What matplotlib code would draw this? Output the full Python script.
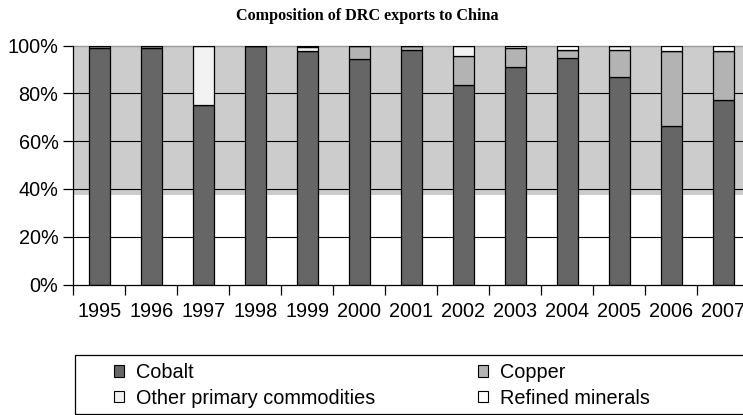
import matplotlib
matplotlib.use("Agg")
import matplotlib.pyplot as plt
from matplotlib.patches import Patch, Rectangle
import numpy as np

years = ["1995", "1996", "1997", "1998", "1999", "2000", "2001",
         "2002", "2003", "2004", "2005", "2006", "2007"]
cobalt = [99.0, 99.0, 75.3, 100.0, 97.9, 94.4, 98.3, 83.5, 91.1, 95.0, 86.9, 66.5, 77.4]
copper = [1.0, 1.0, 0.0, 0.0, 0.0, 5.6, 1.7, 12.3, 7.9, 3.3, 11.4, 31.4, 20.5]
other = [0.0, 0.0, 24.7, 0.0, 1.6, 0.0, 0.0, 4.2, 1.0, 0.0, 1.7, 0.0, 0.0]
refined = [0.0, 0.0, 0.0, 0.0, 0.5, 0.0, 0.0, 0.0, 0.0, 1.7, 0.0, 2.1, 2.1]
series_names = ["Cobalt", "Copper", "Other primary commodities", "Refined minerals"]
series_colors = ["#666666", "#b3b3b3", "#f2f2f2", "#ffffff"]
yticks = [0, 20, 40, 60, 80, 100]
ytick_labels = ["0%", "20%", "40%", "60%", "80%", "100%"]

plt.rcParams["font.family"] = ["Liberation Sans", "DejaVu Sans"]

W, H = 743, 415
fig = plt.figure(figsize=(W / 100, H / 100), dpi=100)
left, right = 73.3 / W, 749.3 / W
bottom, top = 1 - 284.5 / H, 1 - 45.7 / H
ax = fig.add_axes([left, bottom, right - left, top - bottom])

x = np.arange(len(years))
ax.axhspan(37.4, 100, color="#cccccc", zorder=0, lw=0)

base = np.zeros(len(years))
for vals, name, col in zip([cobalt, copper, other, refined], series_names, series_colors):
    v = np.array(vals)
    ax.bar(x, v, bottom=base, width=0.41, color=col, edgecolor="black",
           linewidth=0.9, zorder=3)
    base = base + v

ax.set_xlim(-0.5, len(years) - 0.5)
ax.set_ylim(0, 100)

for g in [20, 40, 60, 80]:
    ax.axhline(g, color="black", lw=0.8, zorder=1)

ax.set_yticks(yticks)
ax.set_yticklabels(ytick_labels, fontsize=14.3)
ax.tick_params(axis="y", direction="out", length=7.2, width=0.9, pad=3.5)

ax.set_xticks(np.arange(len(years) + 1) - 0.5)
ax.set_xticklabels([])
ax.tick_params(axis="x", which="major", direction="out", length=7.2, width=0.9)
ax.set_xticks(x, minor=True)
ax.set_xticklabels(years, minor=True, fontsize=14.3)
ax.tick_params(axis="x", which="minor", length=0, pad=12.5)

for s in ["left", "bottom"]:
    ax.spines[s].set_color("black")
    ax.spines[s].set_linewidth(0.9)
    ax.spines[s].set_zorder(4)
ax.spines["top"].set_color("#999999")
ax.spines["top"].set_linewidth(1.0)
ax.spines["right"].set_visible(False)

fig.text(367.5 / W, 1 - 16 / H, "Composition of DRC exports to China",
         ha="center", va="center", fontsize=11.6, fontweight="bold",
         family=["Liberation Serif", "DejaVu Serif"])

# legend frame
frame = Rectangle((75 / W, 1 - 414 / H), (770 - 75) / W, (414 - 355) / H,
                  transform=fig.transFigure, fill=False, edgecolor="black",
                  linewidth=0.9)
fig.add_artist(frame)

handles = [Patch(facecolor=c, edgecolor="black", linewidth=0.8) for c in series_colors]
order = [0, 2, 1, 3]  # fill row-wise: Cobalt, Copper / Other, Refined
leg = fig.legend([handles[i] for i in order], [series_names[i] for i in order],
                 loc="upper left",
                 bbox_to_anchor=(114 / W, 1 - 363 / H), ncol=2,
                 frameon=False, fontsize=14.3, borderpad=0, borderaxespad=0,
                 handlelength=0.5, handleheight=0.5, handletextpad=0.6,
                 columnspacing=5.2, labelspacing=0.34)

fig.savefig("out.png", dpi=100)
